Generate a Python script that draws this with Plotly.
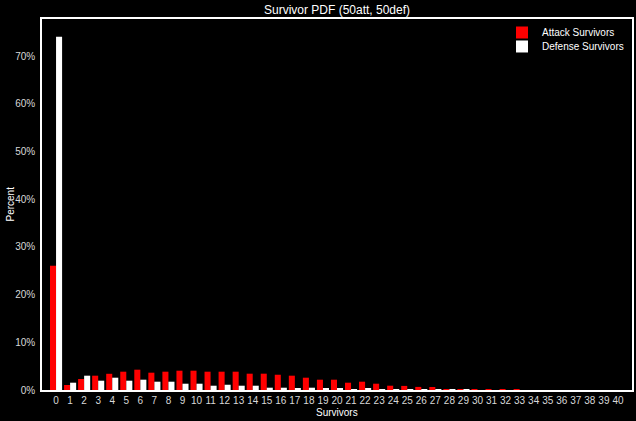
import plotly.graph_objects as go

survivors = list(range(0, 41))
attack = [26.06, 1.05, 2.3, 3.0, 3.4, 3.84, 4.26, 3.63, 3.84, 4.05, 4.05, 3.84, 3.84, 3.84,
          3.42, 3.42, 3.2, 3.0, 2.58, 2.16, 2.16, 1.53, 1.74, 1.32, 0.9, 0.86, 0.65, 0.63,
          0.2, 0.2, 0.2, 0.05, 0.05, 0.2, 0.0, 0.0, 0.0, 0.0, 0.0, 0.0, 0.0]
defense = [74.07, 1.53, 3.0, 1.95, 2.58, 1.95, 2.16, 1.74, 1.74, 1.32, 1.32, 0.9, 1.1, 0.9,
           0.9, 0.48, 0.48, 0.28, 0.48, 0.28, 0.28, 0.1, 0.28, 0.08, 0.05, 0.03, 0.02, 0.02,
           0.01, 0.01, 0.0, 0.0, 0.0, 0.0, 0.0, 0.0, 0.0, 0.0, 0.0, 0.0, 0.0]
yticks = [0, 10, 20, 30, 40, 50, 60, 70]

font = "Liberation Sans, Arial, sans-serif"
fig = go.Figure()
fig.add_trace(go.Bar(x=survivors, y=attack, name="Attack Survivors", legend="legend",
                     marker=dict(color="#ff0000", line=dict(width=0))))
fig.add_trace(go.Bar(x=survivors, y=defense, name="Defense Survivors", legend="legend2",
                     marker=dict(color="#ffffff", line=dict(width=0))))

leg = dict(xanchor="left", yanchor="top", bgcolor="rgba(0,0,0,0)", borderwidth=0,
           font=dict(size=10, color="white"), itemwidth=30, tracegroupgap=0)
fig.update_layout(
    width=636, height=421,
    paper_bgcolor="black", plot_bgcolor="black",
    font=dict(family=font, color="white", size=10),
    barmode="group", bargap=0.14, bargroupgap=0,
    margin=dict(l=42, r=4, t=19, b=31),
    title=dict(text="Survivor PDF (50att, 50def)", x=337 / 636, xanchor="center",
               y=1 - 10 / 421, yanchor="middle", font=dict(size=12, color="white")),
    legend=dict(leg, x=0.7797, y=1.0027),
    legend2=dict(leg, x=0.7797, y=0.965),
    showlegend=True,
)
fig.update_xaxes(
    range=[-1, 41], tickmode="array", tickvals=survivors,
    ticktext=[str(s) for s in survivors], automargin=False,
    showgrid=False, zeroline=False, showline=True, linecolor="white", linewidth=1.5,
    mirror=True, ticks="",
    tickfont=dict(size=10, color="#d8d8d8"),
)
fig.update_yaxes(
    range=[0, 77.8], tickmode="array", tickvals=yticks,
    ticktext=[f"{v}%" for v in yticks], automargin=False,
    showgrid=False, zeroline=False, showline=True, linecolor="white", linewidth=1.5,
    mirror=True, ticks="outside", ticklen=3, tickcolor="rgba(0,0,0,0)",
    tickfont=dict(size=10, color="#d8d8d8"),
)
fig.add_annotation(text="Survivors", xref="paper", yref="paper", x=0.5, y=-22 / 371,
                   xanchor="center", yanchor="middle", showarrow=False,
                   font=dict(size=10, color="white"))
fig.add_annotation(text="Percent", xref="paper", yref="paper", x=-32 / 590, y=0.5,
                   xanchor="center", yanchor="middle", showarrow=False, textangle=-90,
                   font=dict(size=10, color="white"))
fig.write_html("out.html")
